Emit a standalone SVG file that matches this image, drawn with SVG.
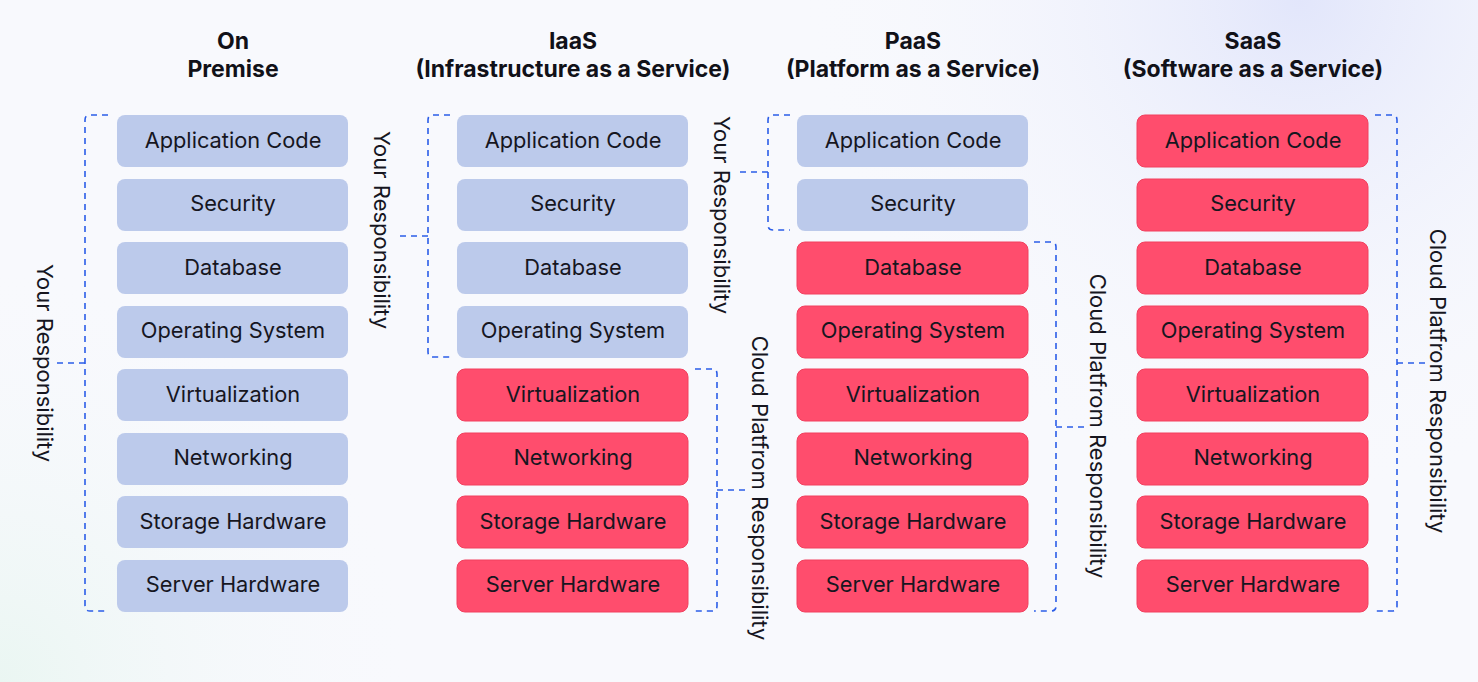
<svg xmlns="http://www.w3.org/2000/svg" width="1478" height="682" viewBox="0 0 1478 682">
<defs>
<radialGradient id="gTR" cx="1300" cy="0" r="500" gradientUnits="userSpaceOnUse">
<stop offset="0" stop-color="#e2e6fb"/><stop offset="1" stop-color="#f8f9fd" stop-opacity="0"/>
</radialGradient>
<radialGradient id="gBL" cx="0" cy="682" r="420" gradientUnits="userSpaceOnUse">
<stop offset="0" stop-color="#eaf6f2"/><stop offset="1" stop-color="#f8f9fd" stop-opacity="0"/>
</radialGradient>
<style>
.b{fill:#bccaeb;}
.r{fill:#ff4d6d;stroke:#f2405f;stroke-width:1;}
.t{font-family:Inter,"Noto Sans",sans-serif;font-size:21.8px;fill:#16161f;text-anchor:middle;}
.h{font-family:Inter,"Noto Sans",sans-serif;font-size:23px;font-weight:700;fill:#111118;text-anchor:middle;}
.l{font-family:Inter,"Noto Sans",sans-serif;font-size:22px;fill:#16161f;text-anchor:middle;dominant-baseline:central;}
.d{fill:none;stroke:#2b5de8;stroke-width:1.6;stroke-dasharray:6 5;}
</style>
</defs>
<rect width="1478" height="682" fill="#f8f9fd"/>
<rect width="1478" height="682" fill="url(#gTR)"/>
<rect width="1478" height="682" fill="url(#gBL)"/>

<g id="titles">
<text class="h" x="233" y="49">On</text><text class="h" x="233" y="77">Premise</text>
<text class="h" x="573" y="49">IaaS</text><text class="h" x="573" y="77">(Infrastructure as a Service)</text>
<text class="h" x="913" y="49">PaaS</text><text class="h" x="913" y="77">(Platform as a Service)</text>
<text class="h" x="1253" y="49">SaaS</text><text class="h" x="1253" y="77">(Software as a Service)</text>
</g>

<g id="onprem">
<g id="op1"><rect class="b" x="117" y="115" width="231" height="52" rx="8"/><text class="t" x="233" y="148">Application Code</text></g>
<g id="op2"><rect class="b" x="117" y="179" width="231" height="52" rx="8"/><text class="t" x="233" y="211">Security</text></g>
<g id="op3"><rect class="b" x="117" y="242" width="231" height="52" rx="8"/><text class="t" x="233" y="275">Database</text></g>
<g id="op4"><rect class="b" x="117" y="306" width="231" height="52" rx="8"/><text class="t" x="233" y="338">Operating System</text></g>
<g id="op5"><rect class="b" x="117" y="369" width="231" height="52" rx="8"/><text class="t" x="233" y="402">Virtualization</text></g>
<g id="op6"><rect class="b" x="117" y="433" width="231" height="52" rx="8"/><text class="t" x="233" y="465">Networking</text></g>
<g id="op7"><rect class="b" x="117" y="496" width="231" height="52" rx="8"/><text class="t" x="233" y="529">Storage Hardware</text></g>
<g id="op8"><rect class="b" x="117" y="560" width="231" height="52" rx="8"/><text class="t" x="233" y="592">Server Hardware</text></g>
</g>

<g id="iaas">
<g id="ia1"><rect class="b" x="457" y="115" width="231" height="52" rx="8"/><text class="t" x="573" y="148">Application Code</text></g>
<g id="ia2"><rect class="b" x="457" y="179" width="231" height="52" rx="8"/><text class="t" x="573" y="211">Security</text></g>
<g id="ia3"><rect class="b" x="457" y="242" width="231" height="52" rx="8"/><text class="t" x="573" y="275">Database</text></g>
<g id="ia4"><rect class="b" x="457" y="306" width="231" height="52" rx="8"/><text class="t" x="573" y="338">Operating System</text></g>
<g id="ia5"><rect class="r" x="457" y="369" width="231" height="52" rx="8"/><text class="t" x="573" y="402">Virtualization</text></g>
<g id="ia6"><rect class="r" x="457" y="433" width="231" height="52" rx="8"/><text class="t" x="573" y="465">Networking</text></g>
<g id="ia7"><rect class="r" x="457" y="496" width="231" height="52" rx="8"/><text class="t" x="573" y="529">Storage Hardware</text></g>
<g id="ia8"><rect class="r" x="457" y="560" width="231" height="52" rx="8"/><text class="t" x="573" y="592">Server Hardware</text></g>
</g>

<g id="paas">
<g id="pa1"><rect class="b" x="797" y="115" width="231" height="52" rx="8"/><text class="t" x="913" y="148">Application Code</text></g>
<g id="pa2"><rect class="b" x="797" y="179" width="231" height="52" rx="8"/><text class="t" x="913" y="211">Security</text></g>
<g id="pa3"><rect class="r" x="797" y="242" width="231" height="52" rx="8"/><text class="t" x="913" y="275">Database</text></g>
<g id="pa4"><rect class="r" x="797" y="306" width="231" height="52" rx="8"/><text class="t" x="913" y="338">Operating System</text></g>
<g id="pa5"><rect class="r" x="797" y="369" width="231" height="52" rx="8"/><text class="t" x="913" y="402">Virtualization</text></g>
<g id="pa6"><rect class="r" x="797" y="433" width="231" height="52" rx="8"/><text class="t" x="913" y="465">Networking</text></g>
<g id="pa7"><rect class="r" x="797" y="496" width="231" height="52" rx="8"/><text class="t" x="913" y="529">Storage Hardware</text></g>
<g id="pa8"><rect class="r" x="797" y="560" width="231" height="52" rx="8"/><text class="t" x="913" y="592">Server Hardware</text></g>
</g>

<g id="saas">
<g id="sa1"><rect class="r" x="1137" y="115" width="231" height="52" rx="8"/><text class="t" x="1253" y="148">Application Code</text></g>
<g id="sa2"><rect class="r" x="1137" y="179" width="231" height="52" rx="8"/><text class="t" x="1253" y="211">Security</text></g>
<g id="sa3"><rect class="r" x="1137" y="242" width="231" height="52" rx="8"/><text class="t" x="1253" y="275">Database</text></g>
<g id="sa4"><rect class="r" x="1137" y="306" width="231" height="52" rx="8"/><text class="t" x="1253" y="338">Operating System</text></g>
<g id="sa5"><rect class="r" x="1137" y="369" width="231" height="52" rx="8"/><text class="t" x="1253" y="402">Virtualization</text></g>
<g id="sa6"><rect class="r" x="1137" y="433" width="231" height="52" rx="8"/><text class="t" x="1253" y="465">Networking</text></g>
<g id="sa7"><rect class="r" x="1137" y="496" width="231" height="52" rx="8"/><text class="t" x="1253" y="529">Storage Hardware</text></g>
<g id="sa8"><rect class="r" x="1137" y="560" width="231" height="52" rx="8"/><text class="t" x="1253" y="592">Server Hardware</text></g>
</g>

<g id="connectors">
<path class="d" d="M108,115 H90 Q85,115 85,120 V606 Q85,611 90,611 H108 M85,363 H54"/>
<path class="d" d="M450,115 H433 Q428,115 428,120 V352 Q428,357 433,357 H450 M428,236 H397"/>
<path class="d" d="M695,369 H712 Q717,369 717,374 V606 Q717,611 712,611 H695 M717,490 H748"/>
<path class="d" d="M790,115 H773 Q768,115 768,120 V225 Q768,230 773,230 H790 M768,172 H737"/>
<path class="d" d="M1034,242 H1051 Q1056,242 1056,247 V606 Q1056,611 1051,611 H1034 M1056,427 H1087"/>
<path class="d" d="M1375,115 H1392 Q1397,115 1397,120 V606 Q1397,611 1392,611 H1375 M1397,363 H1428"/>
</g>

<g id="labels">
<text class="l" transform="translate(45,363) rotate(90)">Your Responsibility</text>
<text class="l" transform="translate(382,230) rotate(90)">Your Responsibility</text>
<text class="l" transform="translate(760,488) rotate(90)">Cloud Platfrom Responsibility</text>
<text class="l" transform="translate(722,215) rotate(90)">Your Responsibility</text>
<text class="l" transform="translate(1098,426) rotate(90)">Cloud Platfrom Responsibility</text>
<text class="l" transform="translate(1438,381) rotate(90)">Cloud Platfrom Responsibility</text>
</g>
</svg>
